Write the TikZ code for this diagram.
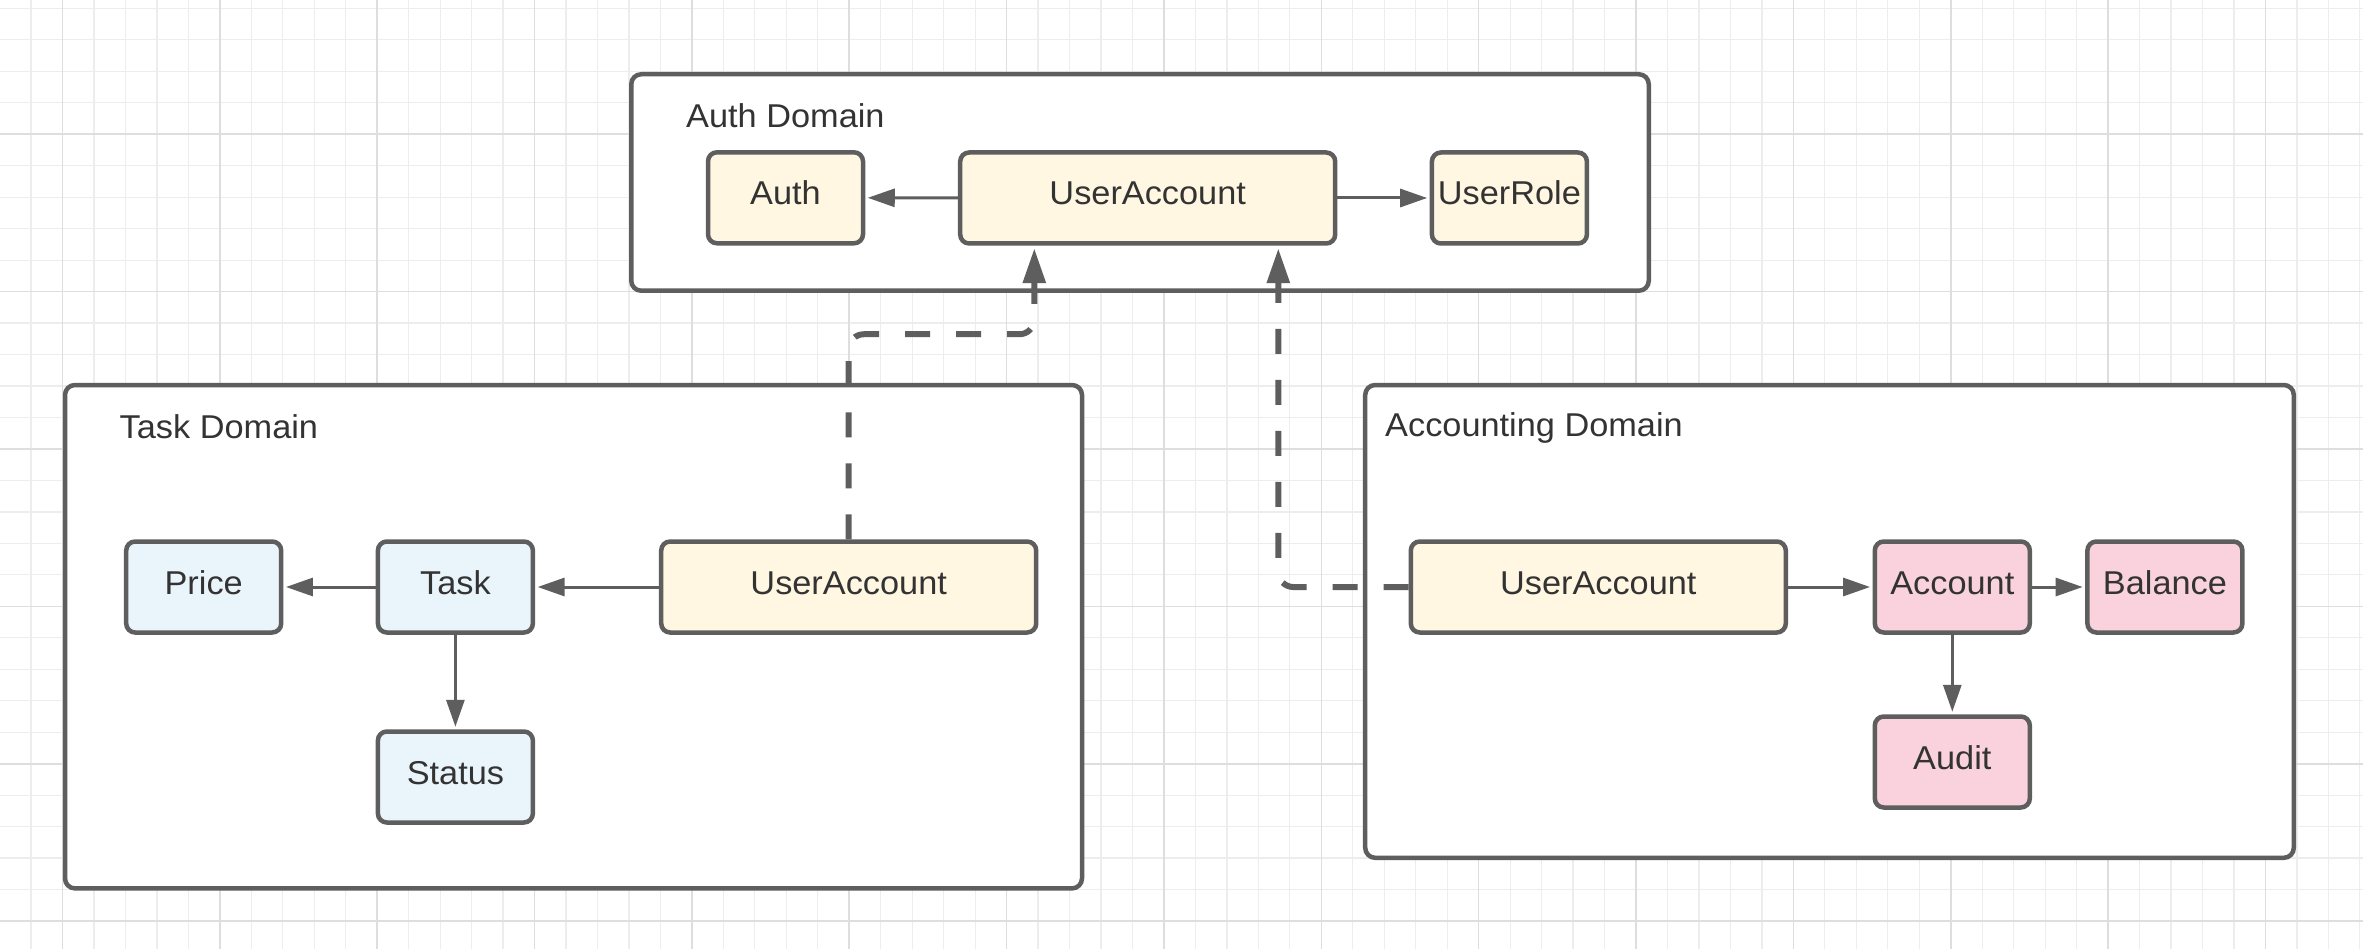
\documentclass[tikz,border=0pt]{standalone}
\usepackage{fontspec}
\setmainfont[FakeStretch=1.04]{Liberation Sans}
\usetikzlibrary{arrows.meta,calc}
\definecolor{edgec}{HTML}{5E5E5E}
\definecolor{txtc}{HTML}{333333}
\definecolor{cream}{HTML}{FFF7E2}
\definecolor{sky}{HTML}{EAF4FB}
\definecolor{rose}{HTML}{F9D2DE}
\definecolor{gridminor}{HTML}{EDEDED}
\definecolor{gridmajor}{HTML}{DEDEDE}
\begin{document}
\begin{tikzpicture}[x=1pt,y=-1pt,
  every node/.style={font=\fontsize{33pt}{40pt}\selectfont, text=txtc},
  container/.style={draw=edgec, line width=4.5pt, fill=white, rounded corners=10pt},
  entity/.style={draw=edgec, line width=4.5pt, rounded corners=9pt, minimum height=91pt,
                 inner sep=0pt, text height=24pt, text depth=10pt, align=center},
  entitysm/.style={entity, minimum width=155pt},
  entitywd/.style={entity, minimum width=375pt},
  conn/.style={draw=edgec, line width=3pt, -{Triangle[length=27pt,width=18pt]}, shorten >=2.5pt},
  depends/.style={draw=edgec, line width=6pt, dash pattern=on 25pt off 26pt, rounded corners=15pt,
                  -{Triangle[length=35pt,width=22pt]}, shorten >=2.5pt},
  domainlabel/.style={anchor=base west, inner sep=0pt},
  minorline/.style={draw=gridminor, line width=1.2pt},
  majorline/.style={draw=gridmajor, line width=1.6pt}
]
\useasboundingbox (0,0) rectangle (2363,949);
\fill[white] (0,0) rectangle (2363,949);
% grid
\foreach \i in {-1,...,73} \draw[minorline] ({62.5+31.47*\i},0) -- ({62.5+31.47*\i},949);
\foreach \j in {0,...,29} \draw[minorline] (0,{8.4+31.47*\j}) -- (2363,{8.4+31.47*\j});
\foreach \i in {0,...,14} \draw[majorline] ({62.5+157.35*\i},0) -- ({62.5+157.35*\i},949);
\foreach \j in {0,...,5} \draw[majorline] (0,{134.3+157.35*\j}) -- (2363,{134.3+157.35*\j});

% containers
\draw[container] (631.25,74.25) rectangle (1648.75,290.75);
\draw[container] (65,385) rectangle (1082,888.4);
\draw[container] (1365.2,385) rectangle (2293.8,857.8);

% domain labels
\node[domainlabel] (authlbl) at (686,127.7) {Auth Domain};
\node[domainlabel] (tasklbl) at (119.5,438.3) {Task Domain};
\node[domainlabel] (acclbl) at (1385,436) {Accounting Domain};

% Auth domain
\node[entitysm, fill=cream] (auth) at (785.5,197.8) {Auth};
\node[entitywd, fill=cream] (aua) at (1147.7,198) {UserAccount};
\node[entitysm, fill=cream] (urole) at (1509.4,198) {UserRole};

% Task domain
\node[entitysm, fill=sky] (price) at (203.7,587) {Price};
\node[entitysm, fill=sky] (task) at (455.4,587) {Task};
\node[entitywd, fill=cream] (tua) at (848.7,587) {UserAccount};
\node[entitysm, fill=sky] (status) at (455.4,777) {Status};

% Accounting domain
\node[entitywd, fill=cream] (acua) at (1598.3,587) {UserAccount};
\node[entitysm, fill=rose] (account) at (1952.3,587) {Account};
\node[entitysm, fill=rose] (balance) at (2164.9,587) {Balance};
\node[entitysm, fill=rose] (audit) at (1952.3,762) {Audit};

% solid connectors
\draw[conn] (aua.west) -- (auth.east);
\draw[conn] (aua.east) -- (urole.west);
\draw[conn] (tua.west) -- (task.east);
\draw[conn] (task.west) -- (price.east);
\draw[conn] (task.south) -- (status.north);
\draw[conn] (acua.east) -- (account.west);
\draw[conn] (account.east) -- (balance.west);
\draw[conn] (account.south) -- (audit.north);

% dashed dependencies
\coordinate (auain1) at ($(aua.south)+(-113.4,0)$);
\coordinate (auain2) at ($(aua.south)+(130.6,0)$);
\draw[depends] (tua.north) -- ++(0,-205) -| (auain1);
\draw[depends] (acua.west) -| (auain2);
\end{tikzpicture}
\end{document}
